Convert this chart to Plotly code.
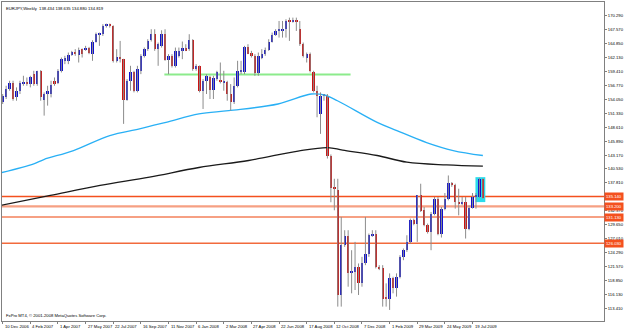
import plotly.graph_objects as go

# ---------------- data ----------------
title_text = "EURJPY,Weekly  138.434 138.635 134.880 134.819"
copyright_text = "FxPro MT4, \u00a9 2001-2008 MetaQuotes Software Corp."

tick_weeks = [0, 8, 16, 24, 32, 40, 48, 56, 64, 72, 80, 88, 96, 104, 112, 120, 128, 136]
tick_labels = ["10 Dec 2006", "4 Feb 2007", "1 Apr 2007", "27 May 2007", "22 Jul 2007",
               "16 Sep 2007", "11 Nov 2007", "6 Jan 2008", "2 Mar 2008", "27 Apr 2008",
               "22 Jun 2008", "17 Aug 2008", "12 Oct 2008", "7 Dec 2008", "1 Feb 2009",
               "29 Mar 2009", "24 May 2009", "19 Jul 2009"]

price_ticks = [110.770, 113.410, 116.130, 118.850, 121.570, 124.290, 127.010, 129.650,
               132.370, 137.810, 140.530, 143.170, 145.890, 148.610, 151.330,
               154.050, 156.770, 159.410, 162.130, 164.850, 167.570, 170.290]

opens = [153.43, 154.40, 156.01, 157.11, 154.40, 155.56, 157.11, 157.15, 156.98, 158.92,
         156.98, 159.57, 153.89, 155.05, 155.05, 157.63, 157.11, 159.44, 161.51, 161.51,
         162.67, 163.32, 162.67, 163.77, 163.77, 164.09, 162.80, 165.26, 166.68, 166.68,
         168.29, 168.32, 168.29, 161.38, 162.28, 161.83, 153.89, 157.63, 159.24, 155.69,
         159.57, 162.48, 163.77, 165.51, 166.68, 163.77, 164.42, 166.68, 161.64, 162.48,
         160.54, 162.48, 163.45, 164.09, 163.77, 165.51, 159.89, 160.54, 155.69, 157.63,
         158.41, 155.82, 157.95, 157.76, 157.11, 157.31, 155.05, 153.43, 156.66, 159.24,
         159.24, 164.22, 163.12, 162.48, 159.05, 162.15, 162.80, 163.58, 165.26, 166.55,
         167.32, 167.35, 167.65, 169.26, 169.20, 169.26, 167.65, 164.74, 162.15, 162.80,
         159.24, 155.69, 151.17, 154.72, 154.72, 143.09, 136.82, 136.44, 115.96, 125.64,
         127.39, 120.16, 120.48, 121.45, 118.22, 122.09, 124.03, 127.58, 127.91, 121.45,
         121.13, 115.64, 115.12, 119.19, 117.25, 119.51, 123.38, 124.67, 126.29, 130.49,
         129.85, 135.34, 132.43, 129.52, 128.23, 131.79, 134.69, 127.91, 132.76, 134.69,
         137.73, 137.40, 134.05, 133.85, 134.05, 128.88, 132.95, 135.02, 135.10, 138.43]
highs = [155.05, 156.66, 157.63, 157.63, 156.34, 157.63, 158.60, 158.27, 158.60, 159.57,
         159.57, 159.70, 155.37, 156.66, 157.63, 158.27, 159.89, 162.15, 162.48, 163.12,
         163.45, 163.77, 164.09, 163.90, 164.42, 164.22, 165.51, 167.00, 167.00, 168.62,
         168.75, 168.75, 168.40, 163.77, 165.38, 161.90, 157.95, 160.54, 159.57, 160.54,
         162.80, 164.09, 165.71, 167.65, 167.65, 165.06, 167.45, 167.65, 162.80, 162.80,
         164.09, 164.09, 165.26, 164.74, 166.68, 165.71, 160.86, 160.60, 157.95, 158.92,
         158.60, 158.60, 159.57, 161.18, 159.57, 157.63, 156.98, 158.27, 161.51, 161.51,
         164.42, 164.74, 163.45, 162.80, 163.12, 163.77, 164.09, 165.71, 167.00, 167.65,
         169.26, 169.26, 169.59, 169.91, 169.91, 169.91, 169.26, 165.06, 163.12, 163.12,
         159.57, 156.66, 155.37, 155.05, 155.05, 143.30, 138.57, 138.57, 131.14, 128.56,
         128.56, 124.67, 126.29, 122.09, 123.38, 131.14, 127.91, 128.56, 128.56, 121.76,
         121.76, 118.22, 120.16, 119.51, 120.16, 123.70, 125.00, 127.58, 130.82, 130.82,
         135.40, 137.60, 133.08, 129.85, 132.11, 135.02, 135.02, 133.08, 135.79, 139.21,
         137.92, 137.60, 136.63, 135.02, 135.02, 133.40, 135.79, 135.79, 138.76, 138.64]
lows = [153.11, 154.08, 155.69, 153.75, 153.75, 155.05, 156.66, 156.66, 156.34, 156.66,
        156.66, 153.75, 150.85, 152.79, 154.40, 156.66, 156.98, 159.24, 160.86, 160.86,
        162.48, 162.48, 161.18, 162.15, 163.45, 162.80, 161.51, 165.06, 164.42, 166.35,
        167.97, 167.97, 161.18, 161.18, 161.18, 149.24, 153.75, 155.69, 155.37, 155.37,
        158.92, 162.15, 163.45, 165.26, 163.45, 160.54, 164.09, 161.51, 158.92, 160.21,
        160.21, 162.15, 161.83, 163.40, 163.45, 159.57, 159.57, 155.37, 152.14, 155.05,
        154.08, 154.08, 157.63, 157.11, 155.69, 153.75, 151.82, 153.11, 156.34, 158.92,
        158.92, 162.80, 162.15, 158.60, 158.60, 161.83, 162.48, 163.45, 165.06, 166.35,
        166.03, 166.03, 166.03, 165.38, 168.94, 167.32, 164.42, 162.15, 161.18, 159.24,
        155.37, 150.53, 147.30, 153.75, 142.50, 134.00, 132.43, 113.70, 113.70, 125.32,
        117.57, 116.28, 116.93, 115.96, 117.57, 121.76, 123.38, 127.26, 121.13, 120.80,
        113.70, 113.70, 113.05, 116.28, 115.64, 119.19, 122.73, 124.35, 125.97, 129.52,
        126.29, 132.11, 129.33, 127.91, 124.67, 131.46, 127.58, 127.13, 132.43, 134.37,
        137.00, 132.76, 131.46, 133.40, 126.94, 128.56, 132.76, 132.76, 134.89, 134.69]
closes = [154.72, 156.01, 157.11, 154.08, 155.69, 157.11, 157.15, 157.11, 158.27, 156.98,
          159.44, 154.40, 155.05, 155.69, 156.85, 156.98, 159.44, 161.83, 162.02, 162.61,
          163.32, 162.80, 163.58, 162.80, 163.80, 163.12, 165.26, 166.68, 166.81, 168.29,
          168.32, 168.29, 161.38, 162.28, 161.83, 153.89, 157.63, 159.24, 155.69, 159.89,
          162.48, 163.77, 165.38, 166.68, 163.77, 164.74, 166.68, 161.64, 162.48, 160.54,
          163.45, 163.45, 164.09, 163.45, 165.51, 159.89, 160.54, 155.69, 157.63, 158.60,
          155.82, 158.15, 159.24, 157.31, 157.63, 155.05, 153.43, 156.66, 159.57, 159.76,
          164.22, 162.93, 162.48, 159.05, 162.48, 162.80, 163.58, 165.26, 166.55, 167.32,
          167.35, 167.65, 169.26, 169.20, 169.26, 169.20, 164.74, 162.48, 162.80, 159.57,
          155.69, 154.72, 154.72, 154.75, 143.09, 136.82, 136.70, 115.96, 125.64, 127.39,
          120.16, 120.67, 121.45, 118.22, 122.09, 124.03, 127.58, 127.91, 121.45, 121.13,
          115.12, 115.30, 119.19, 117.25, 119.51, 123.38, 124.67, 126.29, 130.49, 129.85,
          135.34, 132.30, 129.52, 128.23, 131.79, 134.69, 127.91, 132.76, 134.69, 137.73,
          137.40, 134.05, 133.85, 134.05, 128.88, 132.95, 135.02, 135.10, 138.57, 134.82]

fast_ma_weeks = [-0.5, 9.0, 11.9, 20.5, 31.0, 39.6, 47.3, 56.8, 65.4, 79.7, 89.3, 93.1,
                 96.9, 108.4, 114.1, 122.7, 130.4, 139.0]
fast_ma_vals = [139.73, 141.48, 142.31, 144.06, 146.97, 148.27, 149.55, 151.17, 151.81,
                153.11, 155.05, 154.86, 153.75, 149.54, 147.94, 145.61, 144.06, 143.09]

slow_ma_weeks = [-0.5, 13.8, 28.2, 42.5, 56.8, 71.2, 85.5, 94.1, 98.4, 108.4, 117.0, 128.5, 139.0]
slow_ma_vals = [133.40, 135.33, 137.27, 138.88, 140.76, 142.12, 143.96, 144.64, 144.15,
                143.09, 141.79, 141.25, 141.01]

levels = [135.14, 133.20, 131.13, 126.03]
level_colors = ["#F4501E", "#F6A083", "#F6A083", "#F26A3C"]
level_widths = [1.5, 2.2, 2.2, 1.6]

support_weeks = [46.8, 100.7]
support_price = 158.85

box_weeks = [136.85, 139.7]
box_prices = [134.03, 138.88]

# ---------------- figure ----------------
weeks = list(range(len(opens)))
FONT = "Liberation Sans, Arial, sans-serif"

wx, wy = [], []
for w, h, l in zip(weeks, highs, lows):
    wx += [w, w, None]
    wy += [l, h, None]

body_base = [min(o, c) for o, c in zip(opens, closes)]
body_h = [max(abs(c - o), 0.2) for o, c in zip(opens, closes)]
body_col = ["#1010CC" if c >= o else "#CC1111" for o, c in zip(opens, closes)]

fig = go.Figure()

fig.add_trace(go.Scatter(x=slow_ma_weeks, y=slow_ma_vals, mode="lines",
                         line=dict(color="#1A1A1A", width=1.3, shape="spline"),
                         hoverinfo="skip", showlegend=False))
fig.add_trace(go.Scatter(x=fast_ma_weeks, y=fast_ma_vals, mode="lines",
                         line=dict(color="#29B0F5", width=1.3, shape="spline"),
                         hoverinfo="skip", showlegend=False))
fig.add_trace(go.Scatter(x=wx, y=wy, mode="lines",
                         line=dict(color="#8C8C8C", width=1),
                         hoverinfo="skip", showlegend=False))
fig.add_trace(go.Bar(x=weeks, y=body_h, base=body_base, width=0.68,
                     marker=dict(color=body_col, line=dict(width=0)),
                     hoverinfo="skip", showlegend=False))

shapes = []
shapes.append(dict(type="rect", xref="x", yref="y", x0=box_weeks[0], x1=box_weeks[1],
                   y0=box_prices[0], y1=box_prices[1], fillcolor="#2ADCEB",
                   line=dict(width=0), layer="below"))
for lv, col, lw in zip(levels, level_colors, level_widths):
    shapes.append(dict(type="line", xref="paper", yref="y", x0=0, x1=1, y0=lv, y1=lv,
                       line=dict(color=col, width=lw), layer="below"))
shapes.append(dict(type="line", xref="x", yref="y", x0=support_weeks[0], x1=support_weeks[1],
                   y0=support_price, y1=support_price,
                   line=dict(color="#8CEB8C", width=2), layer="below"))

annotations = []
annotations.append(dict(xref="paper", yref="paper", x=0, y=1, xanchor="left", yanchor="top",
                        xshift=2, yshift=-2, text=title_text, showarrow=False,
                        font=dict(family=FONT, size=4.2, color="#000000")))
annotations.append(dict(xref="paper", yref="paper", x=0, y=0, xanchor="left", yanchor="bottom",
                        xshift=2, yshift=1, text=copyright_text, showarrow=False,
                        font=dict(family=FONT, size=4.2, color="#000000")))
for w, lab in zip(tick_weeks, tick_labels):
    annotations.append(dict(xref="x", yref="paper", x=w, y=0, xanchor="left", yanchor="top",
                            xshift=0, yshift=-1, text=lab, showarrow=False,
                            font=dict(family=FONT, size=4.2, color="#000000")))
for lv, col in zip(levels, level_colors):
    annotations.append(dict(xref="paper", yref="y", x=1, y=lv, xanchor="left", yanchor="middle",
                            xshift=0, text=f"{lv:.3f}", showarrow=False, bgcolor="#F4501E",
                            borderpad=1, font=dict(family=FONT, size=4.2, color="#FFFFFF")))

fig.update_layout(
    width=625, height=330,
    margin=dict(l=1, r=16, t=1, b=9),
    paper_bgcolor="#FFFFFF", plot_bgcolor="#FFFFFF",
    barmode="overlay", bargap=0,
    shapes=shapes, annotations=annotations,
    showlegend=False,
)
fig.update_xaxes(range=[-0.2, 174.06], showgrid=False, zeroline=False,
                 tickvals=tick_weeks, ticktext=[""] * len(tick_weeks),
                 ticks="outside", ticklen=2, tickcolor="#808080",
                 showline=True, linecolor="#808080", linewidth=1, mirror=True)
fig.update_yaxes(range=[110.90, 172.95], side="right", showgrid=False, zeroline=False,
                 tickvals=price_ticks, ticktext=[f"{v:.3f}" for v in price_ticks],
                 ticks="outside", ticklen=2, tickcolor="#808080",
                 tickfont=dict(family=FONT, size=4.2, color="#000000"),
                 showline=True, linecolor="#808080", linewidth=1, mirror=True)

fig.write_html("out.html")
